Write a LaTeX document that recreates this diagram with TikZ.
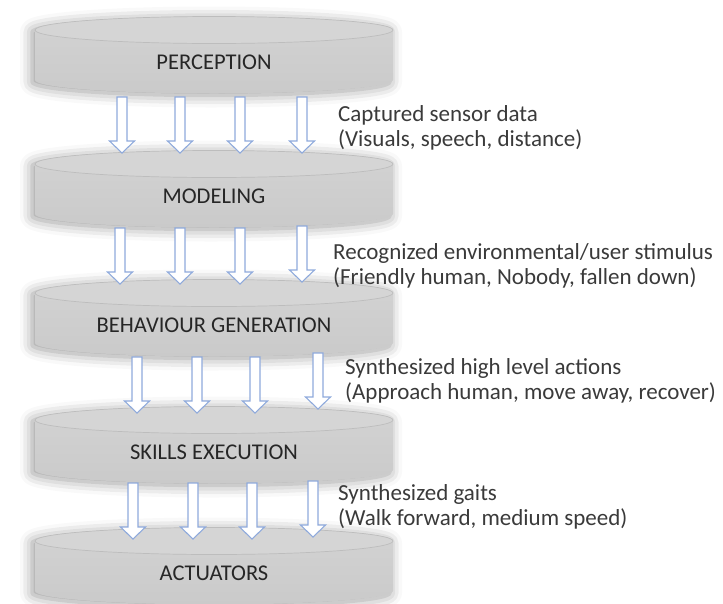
\documentclass[tikz,border=0pt]{standalone}
\usepackage{fontspec}
\setmainfont{Carlito}
\usetikzlibrary{shadows.blur}
\definecolor{ink}{HTML}{262626}
\definecolor{sec}{HTML}{3A3A3A}
\definecolor{layerhi}{HTML}{D3D3D3}
\definecolor{layerlo}{HTML}{CACACA}
\definecolor{layertopc}{HTML}{D5D5D5}
\definecolor{layeredge}{HTML}{BDBDBD}
\definecolor{flowedge}{HTML}{8FAADC}
\tikzset{
  layerbody/.style={top color=layerhi, bottom color=layerlo,
                    blur shadow={shadow xshift=-3pt, shadow yshift=-2pt,
                                 shadow blur radius=12pt, shadow opacity=40}},
  layertop/.style={fill=layertopc, draw=layeredge, line width=0.7pt},
  lname/.style={font=\fontsize{22.5}{26}\selectfont, text=ink, inner sep=0pt},
  note/.style={anchor=west, align=left, font=\fontsize{23}{24.5}\selectfont,
               text=sec, inner sep=0pt},
  flowarr/.style={draw=flowedge, fill=white, line width=1.1pt, line join=miter},
  disc/.pic={
    \path[layerbody] (-179,0) -- (-179,-50)
      arc[start angle=180, end angle=360, x radius=179, y radius=13.5]
      -- (179,0) arc[start angle=0, end angle=180, x radius=179, y radius=13.5] -- cycle;
    \path[layertop] (0,0) ellipse[x radius=179, y radius=13.5];
  },
  dnarrow/.pic={
    \path[flowarr] (-5,0) -- (5,0) -- (5,-44) -- (12.5,-44) -- (0,-56)
      -- (-12.5,-44) -- (-5,-44) -- cycle;
  },
}

\begin{document}
\begin{tikzpicture}[x=1pt, y=1pt]
  \useasboundingbox (0,0) rectangle (723,-603);
  % layers
  \pic at (214,-30) {disc};  \node[lname] (perc) at (214,-62) {PERCEPTION};
  \pic at (214,-164) {disc}; \node[lname] (model) at (214,-196) {MODELING};
  \pic at (214,-293) {disc}; \node[lname] (behav) at (214,-325) {BEHAVIOUR GENERATION};
  \pic at (214,-420) {disc}; \node[lname] (skill) at (214,-452) {SKILLS EXECUTION};
  \pic at (214,-541) {disc}; \node[lname] (act) at (214,-573) {ACTUATORS};
  % block arrows between layers
  \foreach \x/\y in {122/97, 180/97, 240/97, 302/97} \pic at (\x,-\y) {dnarrow};
  \foreach \x/\y in {120/228, 180/228, 240/228, 302/226} \pic at (\x,-\y) {dnarrow};
  \foreach \x/\y in {137/357, 197/357, 255/357, 318/353} \pic at (\x,-\y) {dnarrow};
  \foreach \x/\y in {133/483, 193/483, 252/483, 313/481} \pic at (\x,-\y) {dnarrow};
  % data passed down
  \node[note] (capt) at (338,-128) {Captured sensor data\\(Visuals, speech, distance)};
  \node[note] (recog) at (333,-266) {Recognized environmental/user stimulus\\(Friendly human, Nobody, fallen down)};
  \node[note] (hilvl) at (345,-381) {Synthesized high level actions\\(Approach human, move away, recover)};
  \node[note] (gaits) at (338,-507) {Synthesized gaits\\(Walk forward, medium speed)};
\end{tikzpicture}
\end{document}
